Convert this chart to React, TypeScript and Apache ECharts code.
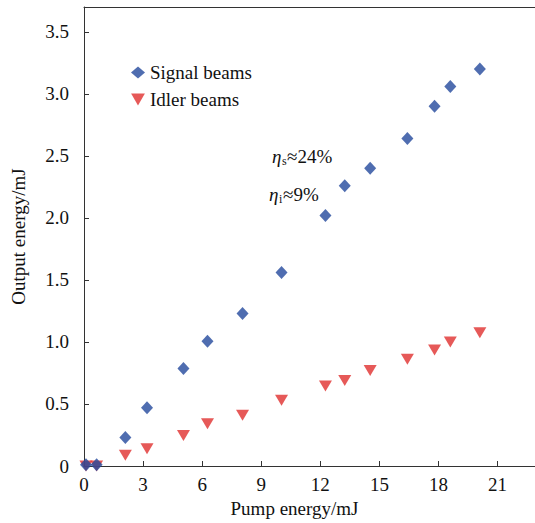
import React, { useEffect, useRef } from "react";
import * as echarts from "echarts";

const pumpEnergy = [0.1, 0.64, 2.1, 3.2, 5.05, 6.27, 8.05, 10.03, 12.26, 13.24, 14.53, 16.42, 17.8, 18.6, 20.1];
const signalBeams = [0.01, 0.01, 0.23, 0.47, 0.785, 1.005, 1.23, 1.56, 2.02, 2.26, 2.4, 2.64, 2.9, 3.06, 3.2];
const idlerBeams = [0.0, 0.0, 0.086, 0.14, 0.245, 0.34, 0.41, 0.53, 0.645, 0.69, 0.77, 0.86, 0.935, 1.0, 1.075];
const xTicks = [0, 3, 6, 9, 12, 15, 18, 21];
const yTicks = [0, 0.5, 1.0, 1.5, 2.0, 2.5, 3.0, 3.5];
const X_MAX = 22.9;
const Y_MAX = 3.7;

const FONT = "Liberation Serif";
const TRI_DOWN = "path://M0,0L10,0L5,8.7Z";
const CSS = `#chart-root text, #chart-root tspan { font-family: "Liberation Serif", "Times New Roman", serif !important; }`;

export default function App() {
  const ref = useRef<HTMLDivElement>(null);
  useEffect(() => {
    if (!ref.current) return;
    const chart = echarts.init(ref.current, undefined, { renderer: "svg" });
    const axisColor = "#333";
    const txt = (text: string, left: number, top: number, size: number, italic = false) => ({
      type: "text",
      left,
      top,
      style: italic
        ? { text, fontFamily: FONT, fontSize: size, fontStyle: "italic", fill: "#111" }
        : { text, fontFamily: FONT, fontSize: size, fill: "#111" },
    });
    chart.setOption({
      animation: false,
      backgroundColor: "#fff",
      textStyle: { fontFamily: FONT },
      grid: { left: 84, top: 7, right: 0, bottom: 57, show: false },
      legend: {
        orient: "vertical",
        left: 126,
        top: 58,
        itemGap: 8,
        itemWidth: 14,
        itemHeight: 12,
        textStyle: { fontFamily: FONT, fontSize: 19, color: "#111" },
        data: [
          { name: "Signal beams", icon: "diamond" },
          { name: "Idler beams", icon: TRI_DOWN },
        ],
      },
      xAxis: [
        {
          type: "value",
          min: xTicks[0],
          max: X_MAX,
          interval: 3,
          name: "Pump energy/mJ",
          nameLocation: "middle",
          nameGap: 30,
          nameTextStyle: { fontFamily: FONT, fontSize: 19, color: "#111", padding: [0, 30, 0, 0] },
          axisLine: { show: true, lineStyle: { color: axisColor, width: 1 } },
          axisTick: { show: true, inside: true, length: 5, lineStyle: { color: axisColor } },
          axisLabel: {
            fontFamily: FONT,
            fontSize: 19,
            color: "#111",
            margin: 9,
            showMaxLabel: false,
            formatter: (v: number) => (xTicks.includes(v) ? String(v) : ""),
          },
          splitLine: { show: false },
        },
        {
          type: "value",
          position: "top",
          min: xTicks[0],
          max: X_MAX,
          axisLine: { show: true, lineStyle: { color: axisColor, width: 1 } },
          axisTick: { show: false },
          axisLabel: { show: false },
          splitLine: { show: false },
        },
      ],
      yAxis: {
        type: "value",
        min: yTicks[0],
        max: Y_MAX,
        interval: 0.5,
        name: "Output energy/mJ",
        nameLocation: "middle",
        nameGap: 56,
        nameTextStyle: { fontFamily: FONT, fontSize: 19, color: "#111" },
        axisLine: { show: true, lineStyle: { color: axisColor, width: 1 } },
        axisTick: { show: true, inside: true, length: 5, lineStyle: { color: axisColor } },
        axisLabel: {
          fontFamily: FONT,
          fontSize: 19,
          color: "#111",
          margin: 15,
          showMaxLabel: false,
          formatter: (v: number) => (v === 0 ? "0" : v.toFixed(1)),
        },
        splitLine: { show: false },
      },
      series: [
        {
          name: "Signal beams",
          type: "scatter",
          symbol: "diamond",
          symbolSize: [12, 13],
          itemStyle: { color: "#23499c" },
          data: pumpEnergy.map((x, i) => [x, signalBeams[i]]),
          z: 3,
        },
        {
          name: "Idler beams",
          type: "scatter",
          symbol: TRI_DOWN,
          symbolSize: [13, 11],
          itemStyle: { color: "#e0302e" },
          data: pumpEnergy.map((x, i) => [x, idlerBeams[i]]),
          z: 2,
        },
      ],
      graphic: [
        txt("η", 272, 147, 19, true),
        txt("s", 282, 155, 12),
        txt("≈24%", 287, 147, 19),
        txt("η", 269, 185, 19, true),
        txt("i", 279, 193, 12),
        txt("≈9%", 283, 185, 19),
      ],
    });
    return () => chart.dispose();
  }, []);
  return (
    <>
      <style>{CSS}</style>
      <div id="chart-root" ref={ref} style={{ width: 535, height: 523, position: "absolute", left: 0, top: 0 }} />
    </>
  );
}
